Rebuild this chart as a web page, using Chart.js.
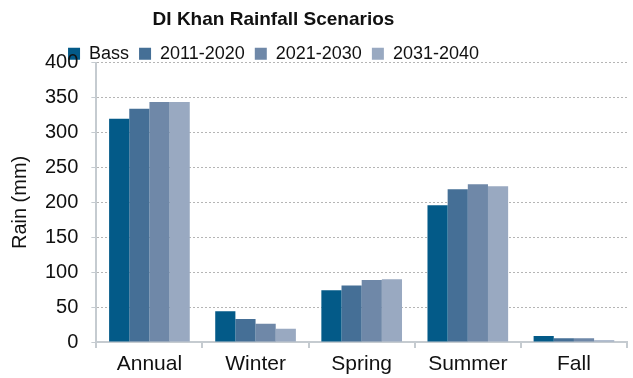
<!DOCTYPE html>
<html>
<head>
<meta charset="utf-8">
<script src="https://cdn.jsdelivr.net/npm/chart.js@4"></script>
<style>
  html, body { margin:0; padding:0; background:#fff; }
  #wrap { width:633px; height:378px; }
</style>
</head>
<body>
<div id="wrap"><canvas id="rainChart"></canvas></div>
<script>
// DI Khan rainfall scenarios - grouped bars
const seasons = ['Annual', 'Winter', 'Spring', 'Summer', 'Fall'];
const seriesNames = ['Bass', '2011-2020', '2021-2030', '2031-2040'];
const bass = [320, 44, 74, 196, 8.6];
const s2011 = [334, 33, 81, 219, 5.2];
const s2021 = [344, 26, 89, 226, 5.2];
const s2031 = [344, 19, 90, 223, 2.4];
const colors = ['#035a88', '#456f96', '#6f88a8', '#99a9c1'];
const yTicks = [0, 50, 100, 150, 200, 250, 300, 350, 400];

const font = "'Liberation Sans', Arial, sans-serif";

// title and legend sit left of centre in the original, legend overlaps plot top a bit
const shiftTop = {
  id: 'shiftTop',
  afterLayout(chart){
    const dx = -42;
    [chart.titleBlock, chart.legend].forEach(b=>{
      if(b){ b.left += dx; b.right += dx; }
    });
    if(chart.legend){ chart.legend.top += 10; chart.legend.bottom += 10; }
  }
};

const values = [bass, s2011, s2021, s2031];
new Chart(document.getElementById('rainChart'), {
  type:'bar',
  data:{
    labels: seasons,
    datasets: seriesNames.map((n,i)=>({
      label:n, data:values[i], backgroundColor:colors[i],
      categoryPercentage:0.76, barPercentage:1
    }))
  },
  options:{
    responsive:true, maintainAspectRatio:false, animation:false,
    layout:{padding:{left:4, right:6, top:8, bottom:-3}},
    plugins:{
      title:{display:true, text:'DI Khan Rainfall Scenarios', color:'#111',
        font:{family:font, size:19, weight:'bold'}, padding:{top:0, bottom:-6}},
      legend:{position:'top', labels:{boxWidth:12, boxHeight:12, padding:10,
        color:'#111', font:{family:font, size:18}}},
      tooltip:{enabled:false}
    },
    scales:{
      x:{
        offset:true,
        grid:{offset:true, drawOnChartArea:false, drawTicks:true, tickLength:6, color:'#c5cbd0', lineWidth:2},
        border:{color:'#c5cbd0', width:2},
        ticks:{color:'#111', font:{family:font, size:21, lineHeight:1}, padding:6}
      },
      y:{
        min:0, max:400,
        afterBuildTicks(axis){ axis.ticks = yTicks.map(v=>({value:v})); },
        grid:{color:'#b5b5b5', lineWidth:1, tickLength:5, tickColor:'#c5cbd0'},
        border:{color:'#c5cbd0', width:2, dash:[2,2]},
        ticks:{color:'#111', font:{family:font, size:20}, padding:13},
        title:{display:true, text:'Rain (mm)', color:'#111', font:{family:font, size:20}, padding:{top:4, bottom:0}}
      }
    }
  },
  plugins:[shiftTop]
});
</script>
</body>
</html>
